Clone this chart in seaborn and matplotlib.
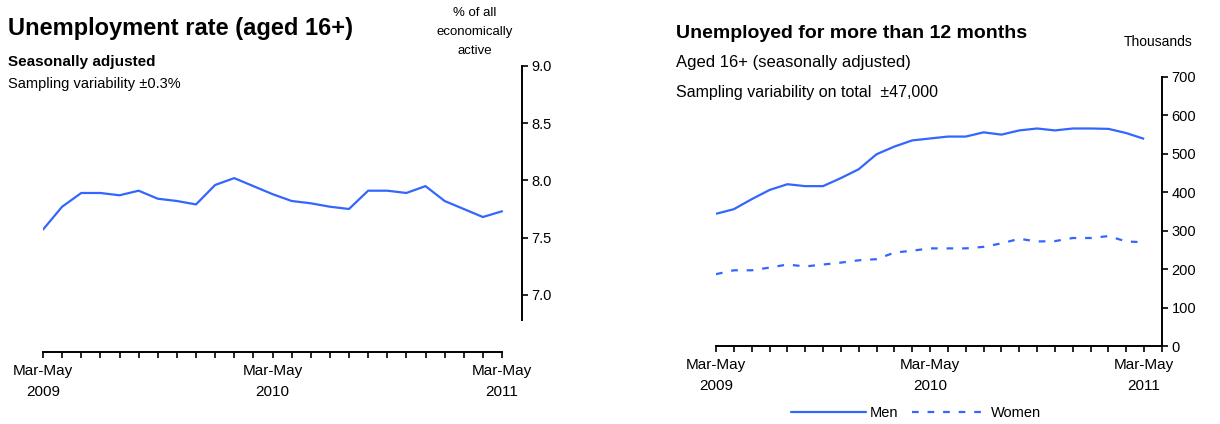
import matplotlib
matplotlib.use('Agg')
import matplotlib.pyplot as plt
from matplotlib.lines import Line2D
import pandas as pd
import numpy as np
import seaborn as sns

# Rolling three-month periods, Mar-May 2009 to Mar-May 2011
months = ['Jan', 'Feb', 'Mar', 'Apr', 'May', 'Jun', 'Jul', 'Aug', 'Sep', 'Oct', 'Nov', 'Dec']
periods = []
for k in range(25):
    m = 2 + k
    y = 2009 + m // 12
    periods.append(f"{months[m % 12]}-{months[(m + 2) % 12]} {y}")

# Unemployment rate (% of economically active)
rate = [7.57, 7.77, 7.89, 7.89, 7.87, 7.91, 7.84, 7.82, 7.79, 7.96, 8.02, 7.95, 7.88,
        7.82, 7.80, 7.77, 7.75, 7.91, 7.91, 7.89, 7.95, 7.82, 7.75, 7.68, 7.73]

# Unemployed for more than 12 months (thousands)
men = [344, 356, 382, 406, 421, 416, 416, 437, 460, 499, 519, 535, 540,
       545, 545, 556, 550, 561, 566, 561, 566, 566, 565, 554, 539]
women = [187, 197, 197, 204, 212, 207, 212, 217, 223, 226, 243, 248, 254,
         254, 254, 258, 267, 279, 272, 273, 281, 281, 286, 272, 270]

blue = '#3366ff'
W, H = 1220, 424

sns.set_theme(style='white')
plt.rcParams['font.family'] = ['Liberation Sans', 'DejaVu Sans']
plt.rcParams['text.color'] = 'black'
plt.rcParams['xtick.color'] = 'black'
plt.rcParams['ytick.color'] = 'black'

df_rate = pd.DataFrame({'pos': np.arange(len(periods)), 'rate': rate})
df_long = pd.DataFrame({'pos': np.arange(len(periods)), 'Men': men, 'Women': women})
df_long = df_long.melt(id_vars='pos', var_name='sex', value_name='thousands')


def label_for(i):
    p = periods[i]
    if p.startswith('Mar-May'):
        return p.replace(' ', '\n')
    return ''


def style_axis(ax):
    ax.spines['left'].set_visible(False)
    ax.spines['top'].set_visible(False)
    for s in ['right', 'bottom']:
        ax.spines[s].set_color('black')
        ax.spines[s].set_linewidth(1.4)
    ax.yaxis.tick_right()
    ax.tick_params(axis='both', direction='out', length=4, width=1.2, color='black',
                   labelsize=10.5, labelcolor='black', bottom=True, right=True, left=False)
    ax.tick_params(axis='x', pad=5, labelsize=11)
    ax.tick_params(axis='y', pad=3)
    ax.set_xlabel('')
    ax.set_ylabel('')
    ax.grid(False)


fig = plt.figure(figsize=(W / 100, H / 100), dpi=100)

# Left panel
ax1 = fig.add_axes([43 / W, 1 - 352 / H, (522 - 43) / W, (352 - 66) / H])
sns.lineplot(data=df_rate, x='pos', y='rate', ax=ax1, color=blue, linewidth=1.6)
ax1.set_xlim(0, 24 * 479 / 459)
ax1.set_ylim(6.5, 9.0)
style_axis(ax1)
ax1.spines['bottom'].set_bounds(0, 24)
ax1.spines['right'].set_bounds(6.78, 9.0)
ax1.set_yticks([7.0, 7.5, 8.0, 8.5, 9.0])
ax1.set_yticklabels(['7.0', '7.5', '8.0', '8.5', '9.0'])
ax1.set_xticks(range(25))
ax1.set_xticklabels([label_for(i) for i in range(25)], linespacing=1.6)

# Right panel
ax2 = fig.add_axes([716 / W, 1 - 346 / H, (1162 - 716) / W, (346 - 77) / H])
sns.lineplot(data=df_long, x='pos', y='thousands', hue='sex', style='sex',
             palette=[blue, blue], dashes=[(1, 0), (3, 4)], ax=ax2,
             linewidth=1.6, legend=False)
ax2.set_xlim(0, 25)
ax2.set_ylim(0, 700)
style_axis(ax2)
ax2.set_yticks(range(0, 701, 100))
ax2.set_xticks(range(26))
ax2.set_xticklabels([label_for(i) if i < 25 else '' for i in range(26)], linespacing=1.6)

# Legend
handles = [Line2D([], [], color=blue, lw=1.6),
           Line2D([], [], color=blue, lw=1.6, dashes=(3, 4))]
fig.legend(handles, ['Men', 'Women'], loc='center', bbox_to_anchor=(916 / W, 1 - 413 / H),
           ncol=2, frameon=False, fontsize=10.5, handlelength=5.2, handletextpad=0.25,
           columnspacing=0.9)

# Texts, left
fig.text(8 / W, 1 - 28 / H, 'Unemployment rate (aged 16+)', fontsize=17, fontweight='bold',
         va='center', ha='left')
fig.text(8 / W, 1 - 62 / H, 'Seasonally adjusted', fontsize=11, fontweight='bold',
         va='center', ha='left')
fig.text(8 / W, 1 - 84 / H, 'Sampling variability \u00b10.3%', fontsize=10.5,
         va='center', ha='left')
fig.text(475 / W, 1 - 32 / H, '% of all\neconomically\nactive', fontsize=9.5,
         va='center', ha='center', linespacing=1.75)

# Texts, right
fig.text(676 / W, 1 - 34 / H, 'Unemployed for more than 12 months', fontsize=14,
         fontweight='bold', va='center', ha='left')
fig.text(676 / W, 1 - 63 / H, 'Aged 16+ (seasonally adjusted)', fontsize=12,
         va='center', ha='left')
fig.text(676 / W, 1 - 93 / H, 'Sampling variability on total  \u00b147,000', fontsize=11.5,
         va='center', ha='left')
fig.text(1192 / W, 1 - 42 / H, 'Thousands', fontsize=10, va='center', ha='right')

fig.savefig('out.png', dpi=100, facecolor='white')
